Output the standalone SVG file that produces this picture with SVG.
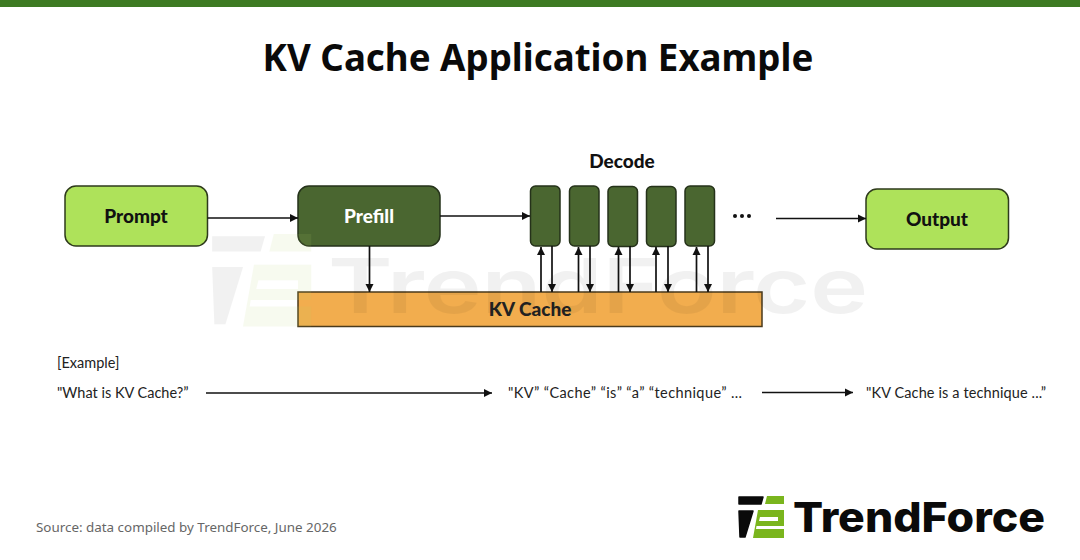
<svg xmlns="http://www.w3.org/2000/svg" width="1080" height="560" viewBox="0 0 1080 560">
<style>
.lbl{font-family:Lato,"Open Sans",sans-serif;font-weight:900;font-size:19px;text-anchor:middle}
.ex{font-family:Lato,"Open Sans",sans-serif;font-size:14.5px;fill:#222}
.ln{stroke:#111;stroke-width:1.7;fill:none}
.lime{fill:#aee25a;stroke:#2e3a1c;stroke-width:1.5}
.dark{fill:#4a6630;stroke:#25321a;stroke-width:1.5}
</style>
<defs>
<marker id="a" markerUnits="userSpaceOnUse" markerWidth="9" markerHeight="10" refX="8" refY="5" orient="auto"><path d="M0 1L8 5L0 9z" fill="#111"/></marker>
<g id="icoB" stroke-linejoin="round"><path d="M1 1H25L23 8H1z" stroke-width="1.500"/><path d="M1 15H15L7 41L2 41z" stroke-width="1.500"/></g>
<g id="icoG"><path d="M29 0H46V8H27z"/><path d="M20 14H46V42H15zM22 21L21 25H40V21zM18.500 30L18 33H46V30z" fill-rule="evenodd"/></g>
</defs>
<rect width="1080" height="7" fill="#3d7a22"/>
<text x="538" y="71" text-anchor="middle" font-family="'Noto Sans','Open Sans',sans-serif" font-weight="700" font-size="36.700" fill="#0a0a0a">KV Cache Application Example</text>

<g id="kvcache"><rect x="298" y="292" width="464" height="34.500" fill="#f2ad4e" stroke="#4a3a1c" stroke-width="1.500"/><text class="lbl" x="530" y="316" fill="#222">KV Cache</text></g>
<g id="prompt"><rect class="lime" x="65" y="186" width="142.500" height="60" rx="11"/><text class="lbl" x="136" y="223" fill="#111">Prompt</text></g>
<g id="prefill"><rect class="dark" x="298" y="186" width="142" height="60" rx="11"/><text class="lbl" x="369" y="223" fill="#fff">Prefill</text></g>
<g id="output"><rect class="lime" x="866" y="189" width="142.500" height="60" rx="11"/><text class="lbl" x="937" y="226" fill="#111">Output</text></g>
<g id="decode-label"><text class="lbl" x="622" y="168" fill="#111">Decode</text></g>
<g id="d1"><rect class="dark" x="530.500" y="186" width="29.500" height="60" rx="5"/></g>
<g id="d2"><rect class="dark" x="569.500" y="186" width="29.500" height="60" rx="5"/></g>
<g id="d3"><rect class="dark" x="608" y="186.500" width="29.500" height="60" rx="5"/></g>
<g id="d4"><rect class="dark" x="646.500" y="186.500" width="29.500" height="60" rx="5"/></g>
<g id="d5"><rect class="dark" x="685" y="186" width="29.500" height="60" rx="5"/></g>
<g id="dots" fill="#111"><circle cx="735" cy="216" r="2"/><circle cx="742" cy="216" r="2"/><circle cx="749" cy="216" r="2"/></g>

<g id="watermark" opacity="0.05">
<use href="#icoB" transform="translate(210 234) scale(2.2)" fill="#000"/>
<text x="328" y="313" font-family="Inter,sans-serif" font-weight="600" font-size="76" textLength="540" lengthAdjust="spacingAndGlyphs" fill="#000">TrendForce</text>
</g>
<g id="watermark-green" opacity="0.1">
<use href="#icoG" transform="translate(210 234) scale(2.2)" fill="#b5d66a"/>
</g>

<g id="connectors">
<path class="ln" marker-end="url(#a)" d="M207.500 218H298"/>
<path class="ln" marker-end="url(#a)" d="M440 216H530"/>
<path class="ln" marker-end="url(#a)" d="M776 218.500H866"/>
<path class="ln" marker-end="url(#a)" d="M369.500 246V292"/>
<path class="ln" marker-end="url(#a)" d="M541 292V247"/>
<path class="ln" marker-end="url(#a)" d="M552 246V292"/>
<path class="ln" marker-end="url(#a)" d="M578.500 292V247"/>
<path class="ln" marker-end="url(#a)" d="M590 246V292"/>
<path class="ln" marker-end="url(#a)" d="M618.500 292V247"/>
<path class="ln" marker-end="url(#a)" d="M630 246V292"/>
<path class="ln" marker-end="url(#a)" d="M656 292V247"/>
<path class="ln" marker-end="url(#a)" d="M668 246V292"/>
<path class="ln" marker-end="url(#a)" d="M696.500 292V247"/>
<path class="ln" marker-end="url(#a)" d="M708 246V292"/>
<path class="ln" marker-end="url(#a)" d="M206 393H492"/>
<path class="ln" marker-end="url(#a)" d="M762 392.500H853"/>
</g>

<g id="example">
<text class="ex" x="57" y="368">[Example]</text>
<text class="ex" x="57" y="398">"What is KV Cache?”</text>
<text class="ex" x="508" y="398" textLength="234">"KV” “Cache” “is” “a” “technique” ...</text>
<text class="ex" x="866" y="398" textLength="180">"KV Cache is a technique ...”</text>
</g>

<text x="36" y="532" font-family="'Noto Sans','Open Sans',sans-serif" font-size="13.400" fill="#666">Source: data compiled by TrendForce, June 2026</text>

<g id="logo">
<use href="#icoB" transform="translate(738 496)" fill="#0a0a0a" stroke="#0a0a0a"/>
<use href="#icoG" transform="translate(738 496)" fill="#7ab51d"/>
<text x="793" y="532" font-family="Inter,sans-serif" font-weight="800" font-size="41" textLength="252" lengthAdjust="spacingAndGlyphs" fill="#0a0a0a">TrendForce</text>
</g>
</svg>
